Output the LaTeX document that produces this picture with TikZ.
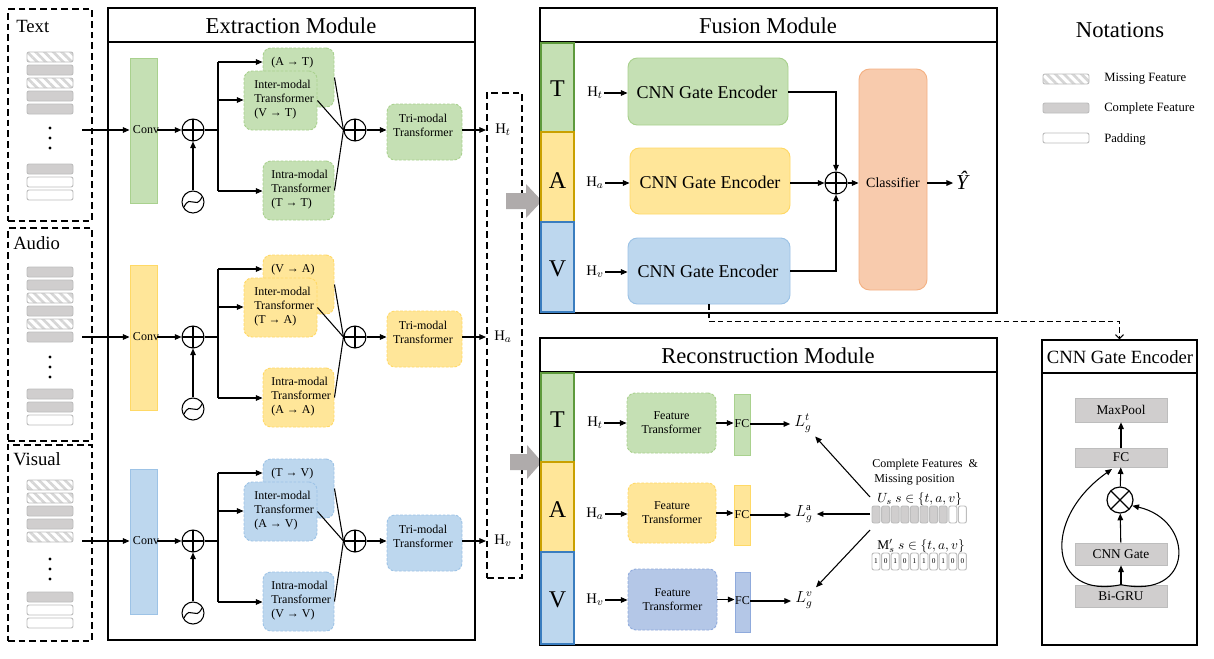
\documentclass[tikz,border=0pt]{standalone}
\usepackage{amsmath}
\usepackage{fontspec}
\setmainfont{Liberation Serif}
\usetikzlibrary{arrows.meta,fit,patterns.meta,calc}
\definecolor{gfill}{HTML}{C5E0B4}
\definecolor{gline}{HTML}{A9D18E}
\definecolor{gdark}{HTML}{5E9A3C}
\definecolor{yfill}{HTML}{FFE699}
\definecolor{yline}{HTML}{FFD966}
\definecolor{ydark}{HTML}{C9A000}
\definecolor{bfill}{HTML}{BDD7EE}
\definecolor{bline}{HTML}{9DC3E6}
\definecolor{bdark}{HTML}{3A7DBF}
\definecolor{ofill}{HTML}{F8CBAD}
\definecolor{oline}{HTML}{F4B183}
\definecolor{pfill}{HTML}{B4C7E7}
\definecolor{pline}{HTML}{8FAADC}
\definecolor{featfill}{HTML}{D0CECE}
\definecolor{featline}{HTML}{BDBDBD}
\definecolor{hatch}{HTML}{D6D6D6}
\definecolor{garrow}{HTML}{AFABAB}
\newcommand\fsz[2]{\fontsize{#1}{#2}\selectfont}
\tikzset{
  ln/.style={line width=0.8pt},
  arr/.style={line width=0.8pt, -{Triangle[length=5pt,width=4.2pt]}},
  modbox/.style={draw, line width=1.1pt, inner sep=0pt},
  hdr/.style={line width=1.1pt},
  inbox/.style={draw, line width=1.4pt, dash pattern=on 5pt off 3pt, inner sep=0pt},
  tbox/.style={rounded corners=6pt, line width=0.7pt, dash pattern=on 2pt off 1.2pt, inner sep=0pt},
  gT/.style={tbox, fill=gfill, draw=gline},
  yT/.style={tbox, fill=yfill, draw=yline},
  bT/.style={tbox, fill=bfill, draw=bline},
  pT/.style={tbox, fill=pfill, draw=pline},
  solidbar/.style={inner sep=0pt, line width=0.7pt},
  gS/.style={solidbar, fill=gfill, draw=gline},
  yS/.style={solidbar, fill=yfill, draw=yline},
  bS/.style={solidbar, fill=bfill, draw=bline},
  pS/.style={solidbar, fill=pfill, draw=pline},
  tav/.style={inner sep=0pt, line width=1.3pt},
  tavt/.style={font=\fsz{18}{20}, inner sep=0pt},
  enc/.style={rounded corners=7pt, line width=0.7pt, inner sep=0pt},
  enct/.style={font=\fsz{13.5}{16}, inner sep=0pt},
  small/.style={font=\fsz{9}{10.5}, inner sep=0pt},
  hl/.style={font=\fsz{11}{13}, inner sep=1pt},
  ll/.style={font=\fsz{12}{14}, inner sep=3pt},
  title/.style={font=\fsz{17}{20}, inner sep=0pt},
  lbl/.style={font=\fsz{14}{16}, inner sep=0pt},
  graybox/.style={fill=featfill, draw=featline, line width=0.5pt, inner sep=0pt},
  grayt/.style={font=\fsz{10}{12}, inner sep=0pt},
  barc/.style={draw=featline, fill=featfill, rounded corners=1.5pt, line width=0.7pt},
  barp/.style={draw=featline, fill=white, rounded corners=1.5pt, line width=0.7pt},
  barm/.style={draw=featline, rounded corners=1.5pt, line width=0.7pt, pattern={Lines[angle=-45,distance=4.6pt,line width=2pt]}, pattern color=hatch},
  oplus/.style={circle, draw, fill=white, line width=0.8pt, minimum size=16.5pt, inner sep=0pt,
    path picture={\draw[line width=0.8pt] (path picture bounding box.north) -- (path picture bounding box.south) (path picture bounding box.west) -- (path picture bounding box.east);}},
  otimes/.style={circle, draw, fill=white, line width=0.9pt, minimum size=19.5pt, inner sep=0pt,
    path picture={\draw[line width=0.9pt] (path picture bounding box.north west) -- (path picture bounding box.south east) (path picture bounding box.south west) -- (path picture bounding box.north east);}},
  osc/.style={circle, draw, fill=white, line width=0.8pt, minimum size=16.5pt, inner sep=0pt,
    path picture={\draw[line width=0.8pt] ($(path picture bounding box.center)+(-9,5)$) .. controls ($(path picture bounding box.center)+(-2,-9)$) and ($(path picture bounding box.center)+(2,9)$) .. ($(path picture bounding box.center)+(9,-5)$);}},
}
\newcommand\fbar[3]{\path[bar#1] (#2,#3) rectangle ++(46,10);}
\newcommand\fdots[2]{\fill (#1,#2) circle (1.7); \fill (#1,#2+10) circle (1.7); \fill (#1,#2+20) circle (1.7);}
\newcommand\exsec[7]{%
  \node[#3S, fit={(130,#2-72)(157,#2+73)}] (#1conv) {};
  \node[small] (#1convt) at (146,#2) {Conv};
  \coordinate (#1in) at (82,#2);
  \draw[arr] (#1in) -- (#1conv.west |- #1in);
  \node[oplus] (#1o1) at (193,#2) {};
  \node[osc] (#1osc) at (193,#2+72) {};
  \draw[arr] (#1osc) -- (#1o1);
  \draw[arr] (#1conv.east |- #1in) -- (#1o1);
  \coordinate (#1br) at (218,#2);
  \coordinate (#1bt) at (218,#2-68);
  \coordinate (#1bm) at (218,#2-30);
  \coordinate (#1bb) at (218,#2+61);
  \draw[ln] (#1o1) -- (#1br);
  \draw[ln] (#1bt) -- (#1bb);
  \node[#3T, fit={(263,#2-82)(334,#2-23)}] (#1back) {};
  \node[#3T, fit={(244,#2-59)(317,#2)}] (#1inter) {};
  \node[#3T, fit={(263,#2+31)(334,#2+90)}] (#1intra) {};
  \node[small, anchor=west] (#1backt) at (271,#2-67) {#4};
  \node[small, anchor=west, align=left] (#1intert) at (254,#2-30) {Inter-modal\\Transformer\\#5};
  \node[small, anchor=west, align=left] (#1intrat) at (271,#2+60) {Intra-modal\\Transformer\\#6};
  \draw[arr] (#1bt) -- (#1back.west |- #1bt);
  \draw[arr] (#1bm) -- (#1inter.west |- #1bm);
  \draw[arr] (#1bb) -- (#1intra.west |- #1bb);
  \node[oplus] (#1o2) at (355,#2) {};
  \draw[ln] (#1back.east) -- (#1o2.west);
  \draw[ln] (#1inter.east) -- (#1o2.west);
  \draw[ln] (#1intra.east) -- (#1o2.west);
  \node[#3T, fit={(387,#2-26)(462,#2+30)}] (#1tri) {};
  \node[small, align=center] (#1trit) at (423,#2-5) {Tri-modal\\Transformer};
  \draw[arr] (#1o2) -- (#1tri.west |- #1o2);
  \coordinate (#1hin) at (486,#2);
  \draw[arr] (#1tri.east |- #1o2) -- (#1hin);
  \node[hl] (#1H) at (503,#2) {H$_{#7}$};
}
\begin{document}
\begin{tikzpicture}[x=0.75pt,y=-0.75pt]
\useasboundingbox (0,0) rectangle (1214,658);
\fill[white] (0,0) rectangle (1214,658);

%---------------- inputs
\node[inbox, fit={(8,9)(92,221)}] (tin) {};
\node[inbox, fit={(8,228)(92,441)}] (ain) {};
\node[inbox, fit={(8,445)(92,641)}] (vin) {};
\node[lbl, anchor=west] (tinl) at (16,26) {Text};
\node[lbl, anchor=west] (ainl) at (13,243) {Audio};
\node[lbl, anchor=west] (vinl) at (13,459) {Visual};
\fbar{m}{27}{52}\fbar{c}{27}{65}\fbar{m}{27}{78}\fbar{c}{27}{91}\fbar{c}{27}{104}
\fdots{50}{128}
\fbar{c}{27}{164}\fbar{p}{27}{177}\fbar{p}{27}{190}
\fbar{c}{27}{267}\fbar{c}{27}{280}\fbar{m}{27}{293}\fbar{c}{27}{306}\fbar{m}{27}{319}\fbar{c}{27}{332}
\fdots{50}{357}
\fbar{c}{27}{389}\fbar{c}{27}{402}\fbar{p}{27}{415}
\fbar{m}{27}{480}\fbar{m}{27}{493}\fbar{c}{27}{506}\fbar{c}{27}{519}\fbar{m}{27}{532}
\fdots{50}{559}
\fbar{c}{27}{592}\fbar{p}{27}{605}\fbar{p}{27}{618}

%---------------- extraction module
\node[modbox, fit={(108,8)(475,640)}] (ext) {};
\draw[hdr] (108,42) -- (475,42);
\node[title] (extt) at (291,26) {Extraction Module};
\exsec{t}{130}{g}{(A → T)}{(V → T)}{(T → T)}{t}
\exsec{a}{337}{y}{(V → A)}{(T → A)}{(A → A)}{a}
\exsec{v}{541}{b}{(T → V)}{(A → V)}{(V → V)}{v}

\node[inbox, fit={(487,93)(522,578)}] (hbox) {};
\fill[garrow] (506,193) -- (526,193) -- (526,184) -- (542,201) -- (526,218) -- (526,209) -- (506,209) -- cycle;
\fill[garrow] (510,454) -- (527,454) -- (527,445) -- (542,462) -- (527,479) -- (527,470) -- (510,470) -- cycle;

%---------------- fusion module
\node[modbox, fit={(540,8)(997,313)}] (fus) {};
\draw[hdr] (540,42) -- (997,42);
\node[title] (fust) at (768,26) {Fusion Module};
\node[tav, fill=gfill, draw=gdark, fit={(541,43)(574,132)}] (fT) {};
\node[tav, fill=yfill, draw=ydark, fit={(541,132)(574,222)}] (fA) {};
\node[tav, fill=bfill, draw=bdark, fit={(541,222)(574,312)}] (fV) {};
\node[tavt] (fTt) at (557.5,89) {T};
\node[tavt] (fAt) at (557.5,181) {A};
\node[tavt] (fVt) at (557.5,269) {V};
\node[enc, fill=gfill, draw=gline, fit={(628,58)(788,125)}] (fg) {};
\node[enc, fill=yfill, draw=yline, fit={(630,148)(790,214)}] (fy) {};
\node[enc, fill=bfill, draw=bline, fit={(628,238)(790,304)}] (fb) {};
\node[enct] (fgt) at (707,92) {CNN Gate Encoder};
\node[enct] (fyt) at (710,182) {CNN Gate Encoder};
\node[enct] (fbt) at (708,271) {CNN Gate Encoder};
\node[hl] (fHt) at (595,93) {H$_t$};
\node[hl] (fHa) at (595,183) {H$_a$};
\node[hl] (fHv) at (595,272) {H$_v$};
\draw[arr] (fHt) -- (fg.west |- fHt);
\draw[arr] (fHa) -- (fy.west |- fHa);
\draw[arr] (fHv) -- (fb.west |- fHv);
\node[oplus] (fo) at (836,183) {};
\draw[arr] (fg.east |- fgt) -| (fo);
\draw[arr] (fy.east |- fo) -- (fo);
\draw[arr] (fb.east |- fbt) -| (fo);
\node[fill=ofill, draw=oline, line width=0.7pt, rounded corners=8pt, inner sep=0pt, fit={(859,69)(927,290)}] (cls) {};
\node[font=\fsz{10.5}{12}, inner sep=0pt] (clst) at (893,183) {Classifier};
\draw[arr] (fo) -- (cls.west |- fo);
\node[font=\fsz{16}{18}\itshape, inner sep=2pt] (yhat) at (962,180) {Ŷ};
\draw[arr] (cls.east |- fo) -- (yhat.west |- fo);

%---------------- reconstruction module
\node[modbox, fit={(540,338)(997,645)}] (rec) {};
\draw[hdr] (540,372) -- (997,372);
\node[title] (rect) at (768,356) {Reconstruction Module};
\node[tav, fill=gfill, draw=gdark, fit={(541,373)(574,462)}] (rT) {};
\node[tav, fill=yfill, draw=ydark, fit={(541,462)(574,552)}] (rA) {};
\node[tav, fill=bfill, draw=bdark, fit={(541,552)(574,644)}] (rV) {};
\node[tavt] (rTt) at (557.5,420) {T};
\node[tavt] (rAt) at (557.5,510) {A};
\node[tavt] (rVt) at (557.5,600) {V};
\node[gT, fit={(627,393)(716,453)}] (rgt) {};
\node[yT, fit={(628,483)(716,543)}] (ryt) {};
\node[pT, fit={(628,569)(717,630)}] (rbt) {};
\node[small, align=center] (rgtt) at (671.5,423) {Feature\\Transformer};
\node[small, align=center] (rytt) at (672,513) {Feature\\Transformer};
\node[small, align=center] (rbtt) at (672.5,600) {Feature\\Transformer};
\node[gS, fit={(734,394)(750,455)}] (rgfc) {};
\node[yS, fit={(734,485)(750,545)}] (ryfc) {};
\node[pS, fit={(735,572)(750,632)}] (rbfc) {};
\node[small] (rgfct) at (742,424) {FC};
\node[small] (ryfct) at (742,515) {FC};
\node[small] (rbfct) at (742.5,601) {FC};
\node[hl] (rHt) at (595,423) {H$_t$};
\node[hl] (rHa) at (595,514) {H$_a$};
\node[hl] (rHv) at (595,600) {H$_v$};
\draw[arr] (rHt) -- (rgt.west |- rHt);
\draw[arr] (rHa) -- (ryt.west |- rHa);
\draw[arr] (rHv) -- (rbt.west |- rHv);
\draw[arr] (rgt.east) -- (rgt.east -| rgfc.west);
\draw[arr] (ryt.east) -- (ryt.east -| ryfc.west);
\draw[arr] (rbt.east) -- (rbt.east -| rbfc.west);
\node[ll] (rLt) at (803,423) {$L_g^t$};
\node[ll] (rLa) at (804,514) {$L_g^{\mathrm{a}}$};
\node[ll] (rLv) at (804,600) {$L_g^v$};
\draw[arr] (rgfc.east |- rgfct) -- (rLt.west |- rgfct);
\draw[arr] (ryfc.east |- ryfct) -- (rLa.west |- ryfct);
\draw[arr] (rbfc.east |- rbfct) -- (rLv.west |- rbfct);
\node[small, anchor=west] (cft) at (872,465) {Complete Features \ \&};
\node[small, anchor=west] (mpt) at (874,480) {Missing position};
\node[font=\fsz{10}{12}, anchor=west, inner sep=0pt] (ust) at (877,499) {$U_s\ s\in\{t,a,v\}$};
\node[font=\fsz{10}{12}, anchor=west, inner sep=0pt] (mst) at (877,546) {M$'_s$ $s\in\{t,a,v\}$};
\foreach \i in {0,...,7} {\path[barc] (872+9.6*\i,506) rectangle ++(8,17);}
\foreach \i in {8,9} {\path[barp] (872+9.6*\i,506) rectangle ++(8,17);}
\foreach \d [count=\i from 0] in {1,0,1,0,1,1,0,1,0,0} {\path[barp] (872+9.6*\i,553) rectangle ++(8,17); \node[font=\fsz{5.5}{6}, inner sep=0pt] at (876+9.6*\i,561.5) {\d};}
\coordinate (s1) at (870,497);
\coordinate (s2) at (870,514);
\coordinate (s3) at (870,530);
\draw[arr] (s1) -- (rLt);
\draw[arr] (s2) -- (rLa);
\draw[arr] (s3) -- (rLv);

%---------------- CNN gate encoder detail
\node[modbox, fit={(1042,340)(1197,645)}] (cge) {};
\draw[hdr] (1042,373) -- (1197,373);
\node[font=\fsz{14}{16}, inner sep=0pt] (cget) at (1120,357) {CNN Gate Encoder};
\node[graybox, fit={(1075,398)(1167,422)}] (mp) {};
\node[graybox, fit={(1075,448)(1167,467)}] (fc) {};
\node[graybox, fit={(1075,543)(1167,565)}] (cg) {};
\node[graybox, fit={(1075,585)(1167,607)}] (bg) {};
\node[grayt] (mpt2) at (1121,410) {MaxPool};
\node[grayt] (fct) at (1121,457.5) {FC};
\node[grayt] (cgt) at (1121,554) {CNN Gate};
\node[grayt] (bgt) at (1121,596) {Bi-GRU};
\node[otimes] (ot) at (1120,500) {};
\draw[arr] (fc) -- (mp);
\draw[arr] (ot) -- (fc);
\draw[arr] (cg) -- (ot);
\draw[arr] (bg) -- (cg);
\coordinate (fcin) at (1112,469);
\draw[arr] (bg.north) .. controls (1050,600) and (1040,520) .. (fcin);
\draw[arr] (bg.north) .. controls (1195,600) and (1195,520) .. (ot.-25);
\draw[ln, dash pattern=on 4pt off 2.5pt, -{Straight Barb[length=3pt,width=6pt]}] (fb.south) -- ++(0,17) -| (cge.north);

%---------------- notations
\node[title] (nott) at (1120,30) {Notations};
\fbar{m}{1043}{74}
\fbar{c}{1043}{103}
\fbar{p}{1043}{133}
\node[font=\fsz{9.5}{11}, anchor=west, inner sep=0pt] (n1) at (1104,79) {Missing Feature};
\node[font=\fsz{9.5}{11}, anchor=west, inner sep=0pt] (n2) at (1104,108) {Complete Feature};
\node[font=\fsz{9.5}{11}, anchor=west, inner sep=0pt] (n3) at (1104,139) {Padding};
\end{tikzpicture}
\end{document}
